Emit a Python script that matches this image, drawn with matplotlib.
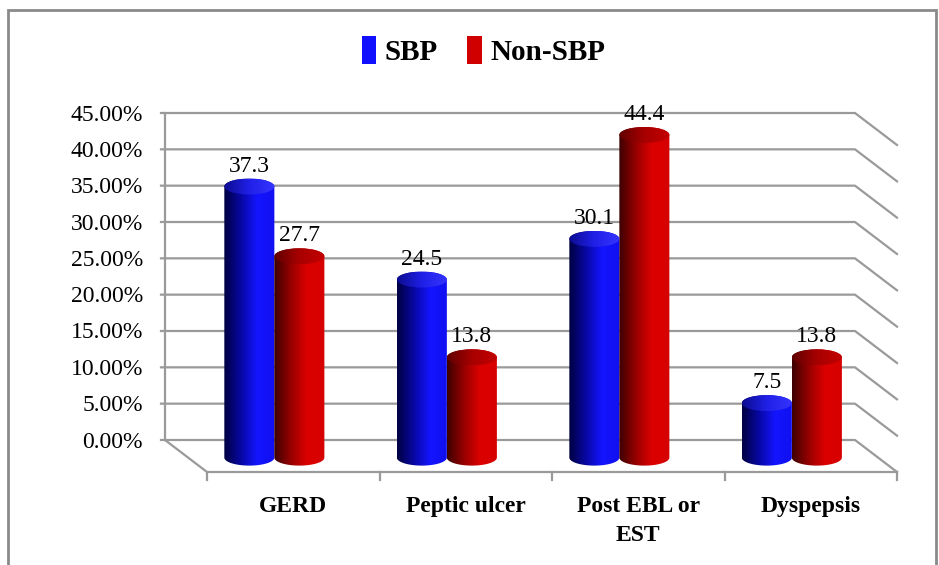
import numpy as np
import matplotlib
matplotlib.use('Agg')
import matplotlib.pyplot as plt
from matplotlib.colors import LinearSegmentedColormap
from matplotlib.patches import Patch, Rectangle, PathPatch, Ellipse
from matplotlib.path import Path
from matplotlib.transforms import offset_copy

# data
categories = ['GERD', 'Peptic ulcer', 'Post EBL or\nEST', 'Dyspepsis']
series_names = ['SBP', 'Non-SBP']
sbp = [37.3, 24.5, 30.1, 7.5]
non_sbp = [27.7, 13.8, 44.4, 13.8]
y_ticks = [0, 5, 10, 15, 20, 25, 30, 35, 40, 45]
y_tick_labels = ['%.2f%%' % t for t in y_ticks]

GRID = '#9a9a9a'
YMIN = -7  # room under the wall for the floor and the cylinder bases

body_cmaps = {
    'SBP': LinearSegmentedColormap.from_list(
        'b', [(0, '#000040'), (0.35, '#0808a8'), (0.65, '#1414ff'), (1, '#1010f0')]),
    'Non-SBP': LinearSegmentedColormap.from_list(
        'r', [(0, '#3c0000'), (0.35, '#9c0000'), (0.65, '#dc0000'), (1, '#d60000')]),
}
top_cmaps = {
    'SBP': LinearSegmentedColormap.from_list('bt', ['#0c0c90', '#2020e8', '#3535ff']),
    'Non-SBP': LinearSegmentedColormap.from_list('rt', ['#600000', '#a80000', '#c40000']),
}
legend_colors = {'SBP': '#1010ff', 'Non-SBP': '#d00000'}


def px_to_data(ax, dx, dy):
    # convert a pixel offset into data units of the axes
    p0 = ax.transData.transform((0, 0))
    p1 = ax.transData.inverted().transform(p0 + np.array([dx, dy]))
    return p1[0], p1[1]


def draw_cylinder(ax, x0, w, base, top_y, name, ry):
    xc = x0 + w / 2
    rx = w / 2
    t = np.linspace(np.pi, 2 * np.pi, 60)
    lower = np.column_stack([xc + rx * np.cos(t), base + ry * np.sin(t)])
    t2 = np.linspace(0, np.pi, 60)
    upper = np.column_stack([xc + rx * np.cos(t2), top_y + ry * np.sin(t2)])
    verts = np.vstack([[[x0, top_y]], lower, upper, [[x0, top_y]]])
    clip = PathPatch(Path(verts), transform=ax.transData)
    grad = np.linspace(0, 1, 256).reshape(1, -1)
    im = ax.imshow(grad, cmap=body_cmaps[name], aspect='auto',
                   extent=[x0, x0 + w, base - ry, top_y + ry], zorder=4,
                   interpolation='bilinear')
    im.set_clip_path(clip)

    top = Ellipse((xc, top_y), 2 * rx, 2 * ry, transform=ax.transData)
    im2 = ax.imshow(grad, cmap=top_cmaps[name], aspect='auto',
                    extent=[x0, x0 + w, top_y - ry, top_y + ry], zorder=5,
                    interpolation='bilinear')
    im2.set_clip_path(top)


def main():
    plt.rcParams['font.family'] = 'serif'
    plt.rcParams['font.serif'] = ['Liberation Serif', 'DejaVu Serif']
    fig = plt.figure(figsize=(9.39, 5.65), dpi=100)
    # back wall: 0% at y=440 px, 45% at y=113 px
    ppu = 327 / y_ticks[-1]
    bottom_px = 440 - YMIN * ppu
    ax = fig.add_axes([165 / 939, (565 - bottom_px) / 565, 690 / 939,
                       (bottom_px - 113) / 565])
    n = len(categories)
    ax.set_xlim(0, n)
    ax.set_ylim(YMIN, y_ticks[-1])
    ax.axis('off')

    DX, DY = px_to_data(ax, 42, -32)
    kw = dict(color=GRID, lw=1.6, clip_on=False, zorder=1)
    # back wall grid lines with the right side wall, plus small axis ticks
    tick_dx, _ = px_to_data(ax, -4, 0)
    for y, lab in zip(y_ticks, y_tick_labels):
        ax.plot([tick_dx, n, n + DX], [y, y, y + DY], **kw)
        ax.annotate(lab, (0, y), xytext=(-22, -2), textcoords='offset pixels',
                    ha='right', va='center', fontsize=17)
    ax.plot([0, 0], [0, y_ticks[-1]], **kw)
    # floor
    ax.plot([0, DX, n + DX], [0, DY, DY], **kw)
    _, tick_len = px_to_data(ax, 0, -8)
    for i in range(n + 1):
        ax.plot([i + DX, i + DX], [DY, DY + tick_len], **kw)

    # bars sit about half way into the depth
    f = 0.55
    w = 0.29
    _, ry = px_to_data(ax, 0, 8)
    label_trans = offset_copy(ax.transData, fig, x=0, y=2, units='dots')
    for i in range(n):
        gx = i + 0.5 + f * DX
        for j, (name, vals) in enumerate([('SBP', sbp), ('Non-SBP', non_sbp)]):
            x0 = gx - w + j * w
            v = vals[i]
            draw_cylinder(ax, x0, w, f * DY, v + f * DY, name, ry)
            ax.text(x0 + w / 2, v + f * DY + ry, '%.1f' % v,
                    transform=label_trans, ha='center', va='bottom',
                    fontsize=17, zorder=6)

    cat_trans = offset_copy(ax.transData, fig, x=0, y=-24, units='dots')
    for i, c in enumerate(categories):
        ax.text(i + 0.5 + DX, DY, c, transform=cat_trans, ha='center',
                va='top', fontsize=17, fontweight='bold', linespacing=1.5)

    ax.set_xlim(0, n)
    ax.set_ylim(YMIN, y_ticks[-1])

    handles = [Patch(facecolor=legend_colors[s], edgecolor='none') for s in series_names]
    fig.legend(handles, series_names, loc='center', bbox_to_anchor=(0.515, 0.91),
               ncol=2, frameon=False, handlelength=0.5, handleheight=1.1,
               handletextpad=0.3, columnspacing=1.0,
               prop={'family': 'serif', 'weight': 'bold', 'size': 21})

    border = Rectangle((8 / 939, -0.05), 928 / 939, 1.05 - 10 / 565,
                       transform=fig.transFigure, fill=False,
                       edgecolor='#8a8a8a', lw=2)
    fig.patches.append(border)

    fig.savefig('out.png', dpi=100)


if __name__ == '__main__':
    main()
